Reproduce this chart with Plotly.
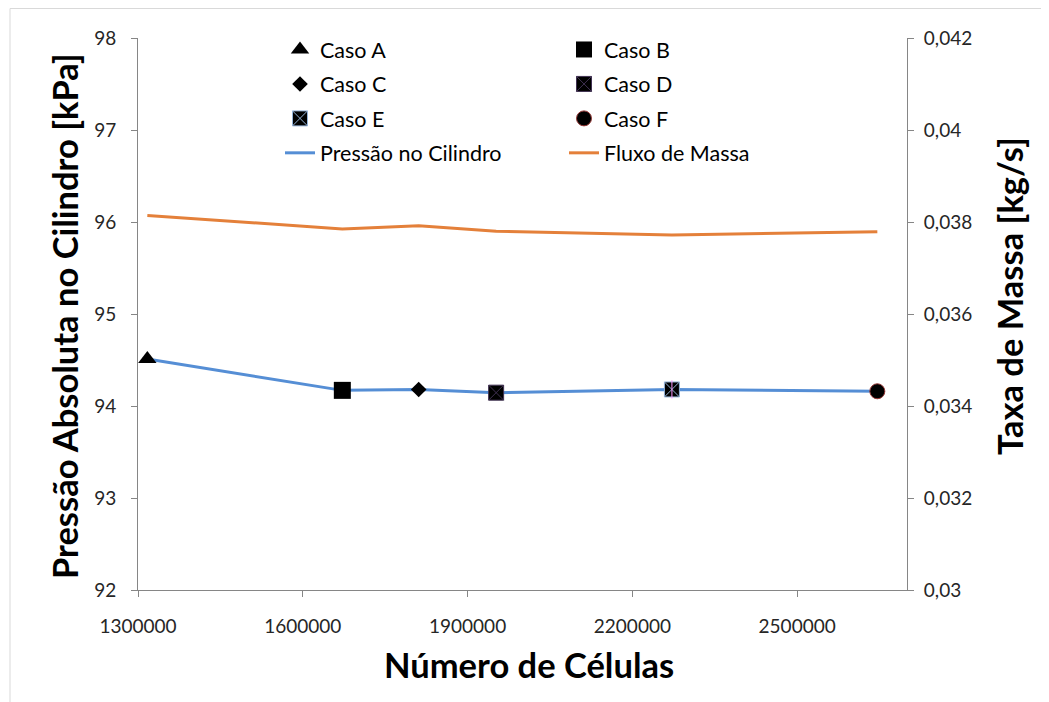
import plotly.graph_objects as go

# ---- data ----
case_names = ["Caso A", "Caso B", "Caso C", "Caso D", "Caso E", "Caso F"]
cells = [1317000, 1672000, 1811000, 1952000, 2272000, 2646000]
pressure = [94.51, 94.17, 94.18, 94.145, 94.18, 94.16]
mass_flow = [0.03814, 0.03785, 0.03792, 0.03780, 0.03772, 0.03779]
x_ticks = [1300000, 1600000, 1900000, 2200000, 2500000]
y_left_ticks = [92, 93, 94, 95, 96, 97, 98]
y_right_ticks = [0.03, 0.032, 0.034, 0.036, 0.038, 0.04, 0.042]

FONT = "Lato"
OFF = 8  # page body margin of the browser
W, H = 1049 - OFF, 702 - OFF
# plot area in window pixels
PL, PR, PT, PB = 138, 907, 38, 590
L, R, T, B = PL - OFF, W - (PR - OFF), PT - OFF, H - (PB - OFF)
PW, PH = PR - PL, PB - PT

def px_x(px):  # window px -> paper
    return (px - PL) / PW

def px_y(py):
    return (PB - py) / PH

marker_styles = [
    dict(symbol="triangle-up", size=16, color="black", line=dict(width=0)),
    dict(symbol="square", size=17, color="black", line=dict(width=0)),
    dict(symbol="diamond", size=12, color="black", line=dict(width=0)),
    dict(symbol="square-x", size=15, color="black", line=dict(width=1, color="#403152")),
    dict(symbol="square-x", size=15, color="black", line=dict(width=1, color="#95B3D7")),
    dict(symbol="circle", size=15, color="black", line=dict(width=1, color="#953735")),
]
legend_of = ["legend", "legend2", "legend", "legend2", "legend", "legend2"]

fig = go.Figure()

fig.add_trace(go.Scatter(
    x=cells, y=pressure, mode="lines", name="Pressão no Cilindro",
    line=dict(color="#558ED5", width=3), legend="legend", legendrank=7,
    legendgroup="p", yaxis="y",
))
fig.add_trace(go.Scatter(
    x=cells, y=mass_flow, mode="lines", name="Fluxo de Massa",
    line=dict(color="#E4803A", width=3), legend="legend2", legendrank=8,
    legendgroup="m", yaxis="y2",
))

for i, name in enumerate(case_names):
    fig.add_trace(go.Scatter(
        x=[cells[i]], y=[pressure[i]], mode="markers", name=name,
        marker=marker_styles[i], legend=legend_of[i], legendrank=i + 1,
        legendgroup=name, yaxis="y",
    ))
fig.add_trace(go.Scatter(
    x=[cells[4]], y=[pressure[4]], mode="markers", showlegend=False,
    marker=dict(symbol="line-ns-open", size=13, line=dict(width=1, color="#95B3D7")),
    legendgroup="Caso E", yaxis="y", hoverinfo="skip",
))

axis_line = "#868686"
tick_font = dict(family=FONT, size=19, color="#262626")
legend_font = dict(family=FONT, size=21.5, color="#000000")

fig.update_layout(
    width=W, height=H,
    margin=dict(l=L, r=R, t=T, b=B, pad=0),
    paper_bgcolor="white", plot_bgcolor="white",
    separators=",.",
    font=dict(family=FONT, color="#000000"),
    xaxis=dict(
        range=[1300000, 2700000], tickvals=x_ticks, tickformat="d",
        showgrid=False, zeroline=False, showline=True, linecolor=axis_line, linewidth=1,
        ticks="outside", ticklen=6, tickcolor=axis_line, tickfont=tick_font,
        ticklabelstandoff=13,
    ),
    yaxis=dict(
        range=[92, 98], tickvals=y_left_ticks,
        showgrid=False, zeroline=False, showline=True, linecolor=axis_line, linewidth=1,
        ticks="outside", ticklen=6, tickcolor=axis_line, tickfont=tick_font,
        ticklabelstandoff=11,
    ),
    yaxis2=dict(
        range=[0.03, 0.042], tickvals=y_right_ticks, overlaying="y", side="right",
        showgrid=False, zeroline=False, showline=True, linecolor=axis_line, linewidth=1,
        ticks="outside", ticklen=6, tickcolor=axis_line, tickfont=tick_font,
        ticklabelstandoff=6,
    ),
    legend=dict(
        x=px_x(280), y=px_y(29), xanchor="left", yanchor="top",
        bgcolor="rgba(0,0,0,0)", font=legend_font,
        tracegroupgap=3.5, traceorder="grouped",
    ),
    legend2=dict(
        x=px_x(564), y=px_y(29), xanchor="left", yanchor="top",
        bgcolor="rgba(0,0,0,0)", font=legend_font,
        tracegroupgap=3.5, traceorder="grouped",
    ),
    showlegend=True,
)

title_font = dict(family=FONT, size=34.5, color="#000000")
fig.add_annotation(
    text="<b>Número de Células</b>", xref="paper", yref="paper",
    x=px_x(529), y=px_y(664), xanchor="center", yanchor="middle",
    showarrow=False, font=title_font,
)
fig.add_annotation(
    text="<b>Pressão Absoluta no Cilindro [kPa]</b>", xref="paper", yref="paper",
    x=px_x(64), y=px_y(316), xanchor="center", yanchor="middle", textangle=-90,
    showarrow=False, font=title_font,
)
fig.add_annotation(
    text="<b>Taxa de Massa [kg/s]</b>", xref="paper", yref="paper",
    x=px_x(1009), y=px_y(296), xanchor="center", yanchor="middle", textangle=-90,
    showarrow=False, font=title_font,
)

# chart-area border
border = "#D9D9D9"
fig.add_shape(type="line", xref="paper", yref="paper",
              x0=px_x(10), x1=px_x(1049), y0=px_y(8.5), y1=px_y(8.5),
              line=dict(color=border, width=1))
fig.add_shape(type="line", xref="paper", yref="paper",
              x0=px_x(10), x1=px_x(10), y0=px_y(8.5), y1=px_y(702),
              line=dict(color=border, width=1))

fig.write_html("out.html")
